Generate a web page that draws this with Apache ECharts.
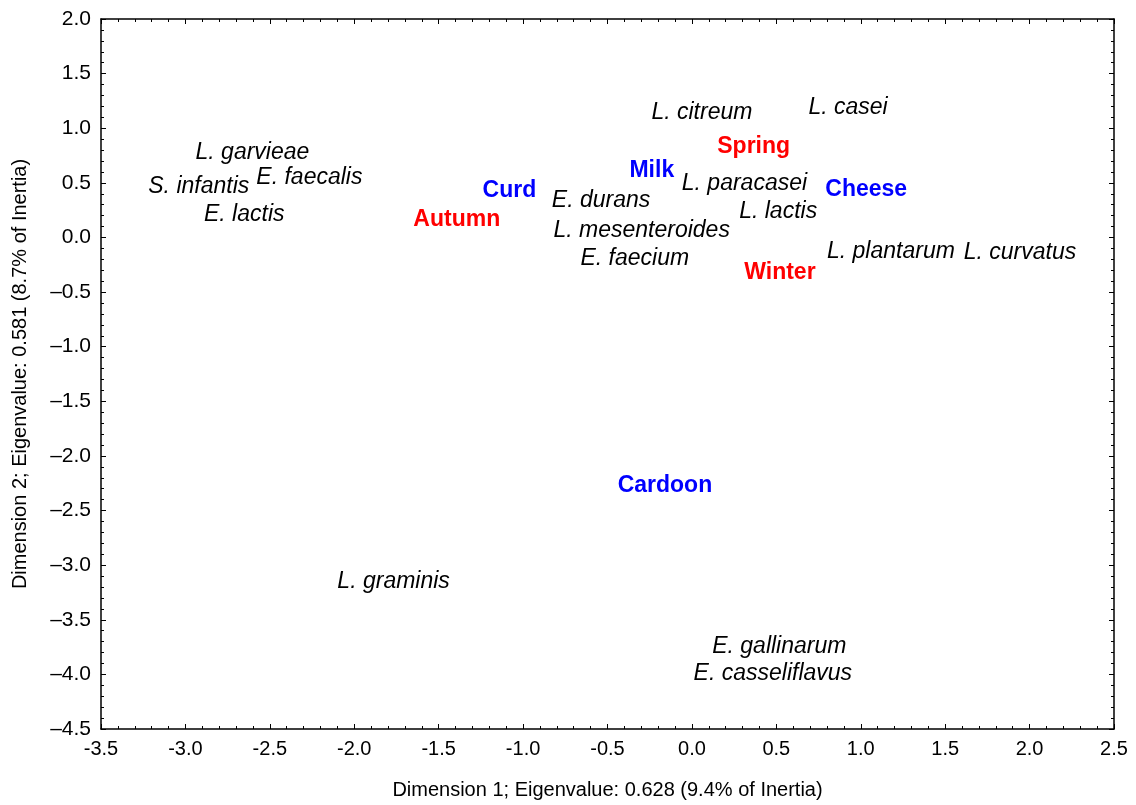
<!DOCTYPE html>
<html>
<head>
<meta charset="utf-8">
<script src="https://cdn.jsdelivr.net/npm/echarts@6/dist/echarts.min.js"></script>
<style>
  html, body { margin: 0; padding: 0; background: #fff; }
  #caChart { width: 1136px; height: 805px; }
</style>
</head>
<body>
<div id="caChart"></div>
<script>
// species (italic, black)
var speciesNames = ['L. garvieae', 'S. infantis', 'E. faecalis', 'E. lactis', 'L. citreum', 'L. casei',
    'L. paracasei', 'E. durans', 'L. lactis', 'L. mesenteroides', 'E. faecium', 'L. plantarum',
    'L. curvatus', 'L. graminis', 'E. gallinarum', 'E. casseliflavus'];
var speciesX = [-2.94, -3.22, -2.58, -2.89, -0.24, 0.69, -0.06, -0.83, 0.28, -0.82, -0.66, 0.80, 1.61, -2.10, 0.12, 0.01];
var speciesY = [0.78, 0.47, 0.55, 0.21, 1.14, 1.19, 0.49, 0.34, 0.24, 0.06, -0.19, -0.13, -0.14, -3.15, -3.75, -3.99];

// sample sources (bold, blue)
var sourceNames = ['Curd', 'Milk', 'Cheese', 'Cardoon'];
var sourceX = [-1.24, -0.37, 0.79, -0.44];
var sourceY = [0.43, 0.61, 0.44, -2.27];

// seasons (bold, red)
var seasonNames = ['Spring', 'Autumn', 'Winter'];
var seasonX = [0.15, -1.65, 0.31];
var seasonY = [0.83, 0.16, -0.32];

var xMin = -3.5, xMax = 2.5, yMin = -4.5, yMax = 2.0, step = 0.5;

function toPoints(names, xs, ys){
    return names.map(function(n, i){ return {name: n, value: [xs[i], ys[i]]}; });
}

function labelSeries(name, names, xs, ys, color, fontWeight, fontStyle){
    return {
        name: name,
        type: 'scatter',
        symbolSize: 0,
        silent: true,
        itemStyle: {opacity: 1},
        label: {
            show: true,
            position: 'right',
            distance: 0,
            formatter: '{b}',
            color: color,
            opacity: 1,
            fontSize: 23,
            fontWeight: fontWeight,
            fontStyle: fontStyle,
            fontFamily: '"Liberation Sans", Arial, sans-serif'
        },
        data: toPoints(names, xs, ys)
    };
}

var chart = echarts.init(document.getElementById('caChart'));

var tickStyle = {show: true, inside: true, length: 5, lineStyle: {color: '#000', width: 1}};
var minorStyle = {show: true, splitNumber: 5, length: 3, lineStyle: {color: '#000', width: 1}};
var lineStyle = {show: true, onZero: false, lineStyle: {color: '#000', width: 1.5}};

var options = {
    animation: false,
    backgroundColor: '#fff',
    grid: {left: 101, right: 22, top: 19, bottom: 72, containLabel: false},
    xAxis: [
        {
            type: 'value', min: xMin, max: xMax, interval: step, position: 'bottom',
            axisLine: lineStyle, axisTick: tickStyle, minorTick: minorStyle,
            splitLine: {show: false},
            axisLabel: {
                margin: 10, color: '#000', fontSize: 20,
                fontFamily: '"Liberation Sans Narrow", "Liberation Sans", Arial, sans-serif',
                formatter: function(v){ return v.toFixed(1); }
            },
            name: 'Dimension 1; Eigenvalue: 0.628 (9.4% of Inertia)',
            nameLocation: 'middle', nameGap: 51,
            nameTextStyle: {color: '#000', fontSize: 20,
                fontFamily: '"Liberation Sans Narrow", "Liberation Sans", Arial, sans-serif'}
        },
        {
            type: 'value', min: xMin, max: xMax, interval: step, position: 'top',
            axisLine: lineStyle, axisTick: tickStyle, minorTick: minorStyle,
            splitLine: {show: false}, axisLabel: {show: false}
        }
    ],
    yAxis: [
        {
            type: 'value', min: yMin, max: yMax, interval: step, position: 'left',
            axisLine: lineStyle, axisTick: tickStyle, minorTick: minorStyle,
            splitLine: {show: false},
            axisLabel: {
                margin: 10, color: '#000', fontSize: 21,
                fontFamily: '"Liberation Sans", Arial, sans-serif',
                formatter: function(v){ return v.toFixed(1).replace('-', '\u2013'); }
            },
            name: 'Dimension 2; Eigenvalue: 0.581 (8.7% of Inertia)',
            nameLocation: 'middle', nameGap: 71,
            nameTextStyle: {color: '#000', fontSize: 20,
                fontFamily: '"Liberation Sans", Arial, sans-serif'}
        },
        {
            type: 'value', min: yMin, max: yMax, interval: step, position: 'right',
            axisLine: lineStyle, axisTick: tickStyle, minorTick: minorStyle,
            splitLine: {show: false}, axisLabel: {show: false}
        }
    ],
    series: [
        labelSeries('species', speciesNames, speciesX, speciesY, '#000', 'normal', 'italic'),
        labelSeries('source', sourceNames, sourceX, sourceY, '#0000ff', 'bold', 'normal'),
        labelSeries('season', seasonNames, seasonX, seasonY, '#ff0000', 'bold', 'normal')
    ]
};
chart.setOption(options);
</script>
</body>
</html>
